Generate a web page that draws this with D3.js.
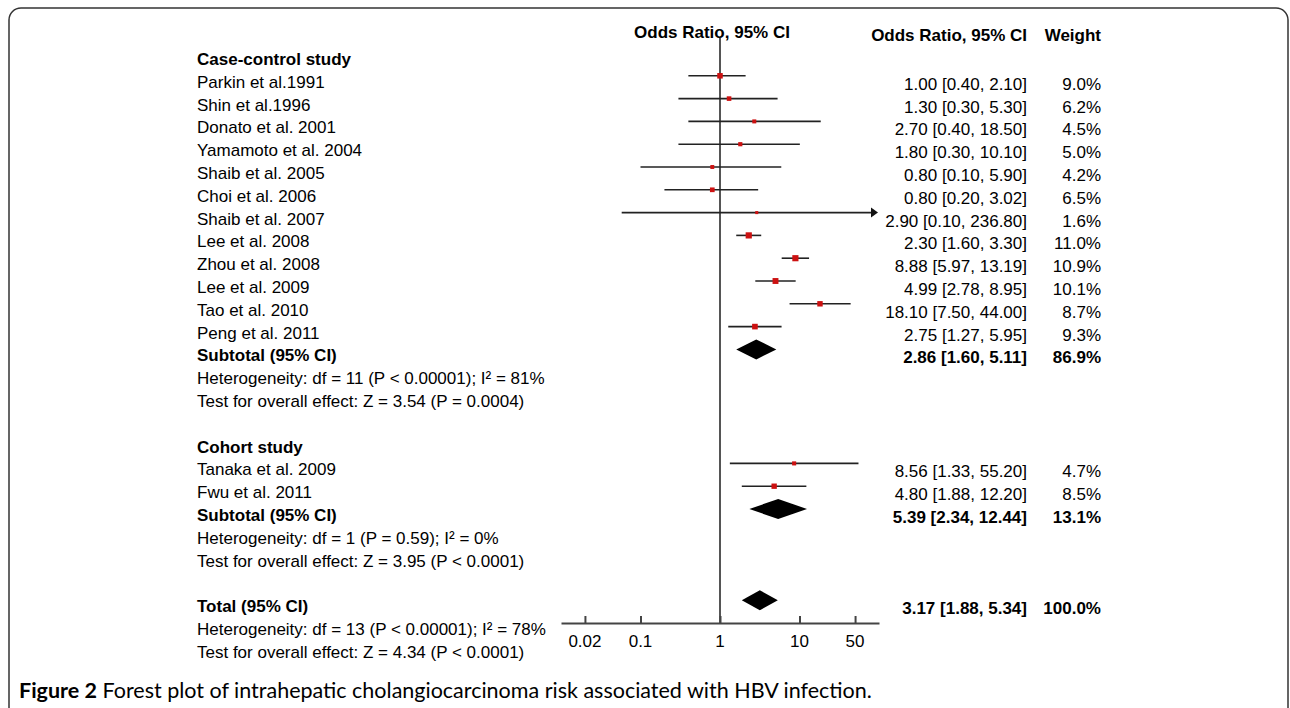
<!DOCTYPE html>
<html>
<head>
<meta charset="utf-8">
<script src="https://cdn.jsdelivr.net/npm/d3@7/dist/d3.min.js"></script>
<style>
    body { margin: 0; background: #fff; }
    text { font-family: "Liberation Sans", Arial, sans-serif; }
</style>
</head>
<body>
<svg id="chart"></svg>
<script>
// case-control studies
const caseNames = ["Parkin et al.1991", "Shin et al.1996", "Donato et al. 2001", "Yamamoto et al. 2004",
    "Shaib et al. 2005", "Choi et al. 2006", "Shaib et al. 2007", "Lee et al. 2008", "Zhou et al. 2008",
    "Lee et al. 2009", "Tao et al. 2010", "Peng et al. 2011"];
const caseOR = [1.00, 1.30, 2.70, 1.80, 0.80, 0.80, 2.90, 2.30, 8.88, 4.99, 18.10, 2.75];
// lower/upper ends as drawn on the plot (Shaib 2007 line starts left of 0.1 in the picture)
const caseLo = [0.40, 0.30, 0.40, 0.30, 0.10, 0.20, 0.058, 1.60, 5.97, 2.78, 7.50, 1.27];
const caseHi = [2.10, 5.30, 18.50, 10.10, 5.90, 3.02, 236.80, 3.30, 13.19, 8.95, 44.00, 5.95];
const caseCI = ["1.00 [0.40, 2.10]", "1.30 [0.30, 5.30]", "2.70 [0.40, 18.50]", "1.80 [0.30, 10.10]",
    "0.80 [0.10, 5.90]", "0.80 [0.20, 3.02]", "2.90 [0.10, 236.80]", "2.30 [1.60, 3.30]",
    "8.88 [5.97, 13.19]", "4.99 [2.78, 8.95]", "18.10 [7.50, 44.00]", "2.75 [1.27, 5.95]"];
const caseWeight = [9.0, 6.2, 4.5, 5.0, 4.2, 6.5, 1.6, 11.0, 10.9, 10.1, 8.7, 9.3];

// cohort studies
const cohortNames = ["Tanaka et al. 2009", "Fwu et al. 2011"];
const cohortOR = [8.56, 4.80];
const cohortLo = [1.33, 1.88];
const cohortHi = [55.20, 12.20];
const cohortCI = ["8.56 [1.33, 55.20]", "4.80 [1.88, 12.20]"];
const cohortWeight = [4.7, 8.5];

// pooled estimates: case-control subtotal, cohort subtotal, total
const pooledLabels = ["Subtotal (95% CI)", "Subtotal (95% CI)", "Total (95% CI)"];
const pooledOR = [2.86, 5.39, 3.17];
const pooledLo = [1.60, 2.34, 1.88];
const pooledHi = [5.11, 12.44, 5.34];
const pooledCI = ["2.86 [1.60, 5.11]", "5.39 [2.34, 12.44]", "3.17 [1.88, 5.34]"];
const pooledWeight = ["86.9%", "13.1%", "100.0%"];

const hetText = ["Heterogeneity: df = 11 (P < 0.00001); I\u00b2 = 81%",
    "Heterogeneity: df = 1 (P = 0.59); I\u00b2 = 0%",
    "Heterogeneity: df = 13 (P < 0.00001); I\u00b2 = 78%"];
const effectText = ["Test for overall effect: Z = 3.54 (P = 0.0004)",
    "Test for overall effect: Z = 3.95 (P < 0.0001)",
    "Test for overall effect: Z = 4.34 (P < 0.0001)"];

const tickValues = [0.02, 0.1, 1, 10, 50];
const tickLabels = ["0.02", "0.1", "1", "10", "50"];

// build rows (index = line number in the table)
let rows = [];
rows.push({i: 0, label: "Case-control study", bold: true});
caseNames.forEach((n, k) => rows.push({i: 1 + k, label: n, type: "study",
    or: caseOR[k], lo: caseLo[k], hi: caseHi[k], ci: caseCI[k], w: caseWeight[k]}));
rows.push({i: 13, label: pooledLabels[0], bold: true, type: "pooled",
    or: pooledOR[0], lo: pooledLo[0], hi: pooledHi[0], ci: pooledCI[0], wt: pooledWeight[0]});
rows.push({i: 14, label: hetText[0]});
rows.push({i: 15, label: effectText[0]});
rows.push({i: 17, label: "Cohort study", bold: true});
cohortNames.forEach((n, k) => rows.push({i: 18 + k, label: n, type: "study",
    or: cohortOR[k], lo: cohortLo[k], hi: cohortHi[k], ci: cohortCI[k], w: cohortWeight[k]}));
rows.push({i: 20, label: pooledLabels[1], bold: true, type: "pooled",
    or: pooledOR[1], lo: pooledLo[1], hi: pooledHi[1], ci: pooledCI[1], wt: pooledWeight[1]});
rows.push({i: 21, label: hetText[1]});
rows.push({i: 22, label: effectText[1]});
rows.push({i: 24, label: pooledLabels[2], bold: true, type: "pooled",
    or: pooledOR[2], lo: pooledLo[2], hi: pooledHi[2], ci: pooledCI[2], wt: pooledWeight[2]});
rows.push({i: 25, label: hetText[2]});
rows.push({i: 26, label: effectText[2]});

const width = 1290, height = 708;
const svg = d3.select("#chart").attr("width", width).attr("height", height);

// frame with rounded corners (bottom runs off the page)
svg.append("rect")
    .attr("x", 9).attr("y", 8)
    .attr("width", 1279).attr("height", 730)
    .attr("rx", 12)
    .attr("fill", "none").attr("stroke", "#333").attr("stroke-width", 1.5);

const x = d3.scaleLog().domain([0.01, 100]).range([561, 879]);
const y = d3.scaleLinear().domain([0, 26]).range([65, 657.8]);   // text baseline per row
const markY = i => y(i) - 12;
const size = d3.scaleLinear().domain([0, 11]).range([2.5, 6.2]);
const axisY = 623;

// headers
svg.append("text").attr("x", 712).attr("y", 38).attr("text-anchor", "middle")
    .attr("font-size", 17).attr("font-weight", "bold").text("Odds Ratio, 95% CI");
svg.append("text").attr("x", 1027).attr("y", 41).attr("text-anchor", "end")
    .attr("font-size", 17).attr("font-weight", "bold").text("Odds Ratio, 95% CI");
svg.append("text").attr("x", 1101).attr("y", 41).attr("text-anchor", "end")
    .attr("font-size", 17).attr("font-weight", "bold").text("Weight");

// line of no effect
svg.append("line")
    .attr("x1", x(1)).attr("x2", x(1))
    .attr("y1", 38).attr("y2", axisY)
    .attr("stroke", "#555").attr("stroke-width", 2);

// axis
const axis = svg.append("g").attr("transform", "translate(0," + axisY + ")")
    .call(d3.axisTop(x).tickValues(tickValues).tickSizeInner(7).tickSizeOuter(0).tickFormat(""));
axis.select(".domain").attr("stroke", "#444").attr("stroke-width", 2);
axis.selectAll(".tick line").attr("stroke", "#444").attr("stroke-width", 2);
svg.selectAll(".ticklabel")
    .data(tickValues)
    .enter()
    .append("text")
    .attr("class", "ticklabel")
    .attr("x", d => x(d))
    .attr("y", 647)
    .attr("text-anchor", "middle")
    .attr("font-size", 17)
    .text((d, k) => tickLabels[k]);

// left labels
svg.selectAll(".label")
    .data(rows)
    .enter()
    .append("text")
    .attr("class", "label")
    .attr("x", 197)
    .attr("y", d => y(d.i))
    .attr("font-size", 17)
    .attr("font-weight", d => d.bold ? "bold" : "normal")
    .text(d => d.label);

// right columns
const valued = rows.filter(d => d.ci);
svg.selectAll(".ci")
    .data(valued)
    .enter()
    .append("text")
    .attr("x", 1027)
    .attr("y", d => y(d.i) + 2)
    .attr("text-anchor", "end")
    .attr("font-size", 17)
    .attr("font-weight", d => d.type === "pooled" ? "bold" : "normal")
    .text(d => d.ci);
svg.selectAll(".wt")
    .data(valued)
    .enter()
    .append("text")
    .attr("x", 1101)
    .attr("y", d => y(d.i) + 2)
    .attr("text-anchor", "end")
    .attr("font-size", 17)
    .attr("font-weight", d => d.type === "pooled" ? "bold" : "normal")
    .text(d => d.type === "pooled" ? d.wt : d.w.toFixed(1) + "%");

// study CI lines and squares
const studies = rows.filter(d => d.type === "study");
const xMax = x.domain()[1];
svg.selectAll(".ciline")
    .data(studies)
    .enter()
    .append("line")
    .attr("x1", d => x(Math.max(d.lo, x.domain()[0])))
    .attr("x2", d => d.hi > xMax ? x(xMax) - 6 : x(d.hi))
    .attr("y1", d => markY(d.i))
    .attr("y2", d => markY(d.i))
    .attr("stroke", "#222")
    .attr("stroke-width", 1.6);

// arrow heads for CIs running off the scale
svg.selectAll(".arrow")
    .data(studies.filter(d => d.hi > xMax))
    .enter()
    .append("path")
    .attr("d", d => {
        let tx = x(xMax) - 1, ty = markY(d.i);
        return "M" + tx + "," + ty + "L" + (tx - 7) + "," + (ty - 5) + "L" + (tx - 7) + "," + (ty + 5) + "Z";
    })
    .attr("fill", "#111");

svg.selectAll(".square")
    .data(studies)
    .enter()
    .append("rect")
    .attr("x", d => x(d.or) - size(d.w) / 2)
    .attr("y", d => markY(d.i) - size(d.w) / 2)
    .attr("width", d => size(d.w))
    .attr("height", d => size(d.w))
    .attr("fill", "#cc1111");

// pooled diamonds
svg.selectAll(".diamond")
    .data(rows.filter(d => d.type === "pooled"))
    .enter()
    .append("path")
    .attr("d", d => {
        let cy = markY(d.i);
        return "M" + x(d.lo) + "," + cy + "L" + x(d.or) + "," + (cy - 10) +
            "L" + x(d.hi) + "," + cy + "L" + x(d.or) + "," + (cy + 10) + "Z";
    })
    .attr("fill", "#000");

// caption
const cap = svg.append("text").attr("x", 19).attr("y", 698)
    .attr("font-size", 21.5).style("font-family", "Lato, 'Noto Sans', sans-serif");
cap.append("tspan").attr("font-weight", "bold").text("Figure 2");
cap.append("tspan").text(" Forest plot of intrahepatic cholangiocarcinoma risk associated with HBV infection.");
</script>
</body>
</html>
